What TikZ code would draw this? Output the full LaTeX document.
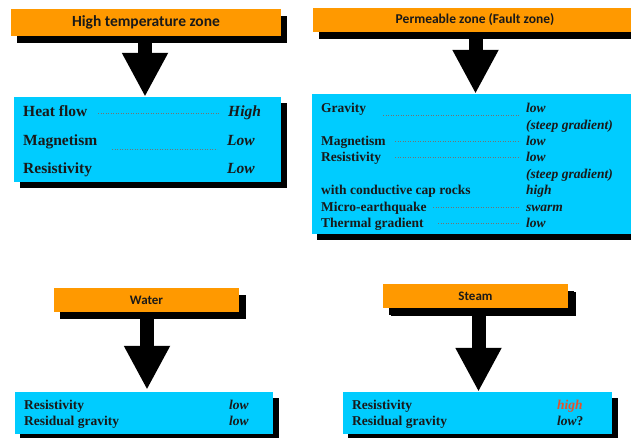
\documentclass[tikz,border=0pt]{standalone}
\usepackage{fontspec}
\setmainfont{Liberation Serif}
\newfontfamily\hdrfont{Carlito}
\usetikzlibrary{shadows,arrows.meta,calc}
\definecolor{zoneorange}{HTML}{FF9900}
\definecolor{zonecyan}{HTML}{00CCFF}
\definecolor{hotred}{RGB}{226,83,44}
\tikzset{
  hdrbox/.style={fill=zoneorange, draw=none, inner sep=0pt, text=black!90,
    drop shadow={shadow xshift=6pt, shadow yshift=-7pt, opacity=1, fill=black}},
  infobox/.style={fill=zonecyan, draw=none, inner sep=0pt,
    drop shadow={shadow xshift=6pt, shadow yshift=-6pt, opacity=1, fill=black}},
  bigarrow/.style={line width=14pt, -{Triangle[width=43pt,length=44pt]}},
  lbl/.style={anchor=base west, inner sep=0pt, text=black!90, font=\bfseries\fontsize{#1}{#1}\selectfont},
  val/.style={anchor=base west, inner sep=0pt, text=black!90, font=\bfseries\itshape\fontsize{#1}{#1}\selectfont},
  leader/.style={draw=black!55, dotted, line width=0.5pt}
}
\begin{document}
\begin{tikzpicture}[x=1pt,y=-1pt]
\useasboundingbox (0,0) rectangle (631,437);
\clip (0,0) rectangle (631,437);

% ---------- High temperature zone ----------
\node[hdrbox, minimum width=270pt, minimum height=27pt, font=\hdrfont\bfseries\fontsize{15.5}{18}\selectfont] (h1) at (146,22.5) {High temperature zone};
\node[infobox, minimum width=267pt, minimum height=85pt] (c1) at (147.5,139.5) {};
\coordinate (a1) at (145,36);
\draw[bigarrow] (a1) -- (a1 |- c1.north);
\node[lbl=15.5] (t11) at (23,116) {Heat flow};
\node[lbl=15.5] (t12) at (23,145) {Magnetism};
\node[lbl=15.5] (t13) at (23,173) {Resistivity};
\node[val=15.5] (v11) at (228,116) {High};
\node[val=15.5] (v12) at (227,145) {Low};
\node[val=15.5] (v13) at (227,173) {Low};
\draw[leader] (98,113) -- (220,113);
\draw[leader] (112,149) -- (217,149);

% ---------- Permeable zone ----------
\node[hdrbox, minimum width=324pt, minimum height=24pt, font=\hdrfont\bfseries\fontsize{13.5}{16}\selectfont] (h2) at (475,20) {Permeable zone (Fault zone)};
\node[infobox, minimum width=325pt, minimum height=140pt, drop shadow={shadow xshift=5pt, shadow yshift=-6pt, opacity=1, fill=black}] (c2) at (474.5,164) {};
\coordinate (a2) at (475.5,32);
\draw[bigarrow] (a2) -- (a2 |- c2.north);
\node[lbl=13.5] (t21) at (321,112) {Gravity};
\node[lbl=13.5] (t22) at (321,145) {Magnetism};
\node[lbl=13.5] (t23) at (321,161) {Resistivity};
\node[lbl=13.5] (t24) at (321,194) {with conductive cap rocks};
\node[lbl=13.5] (t25) at (321,211) {Micro-earthquake};
\node[lbl=13.5] (t26) at (321,227) {Thermal gradient};
\node[val=13.5] (v21) at (526,112) {low};
\node[val=13.5] (v22) at (526,129) {(steep gradient)};
\node[val=13.5] (v23) at (526,145) {low};
\node[val=13.5] (v24) at (526,161) {low};
\node[val=13.5] (v25) at (526,178) {(steep gradient)};
\node[val=13.5] (v26) at (526,194) {high};
\node[val=13.5] (v27) at (526,211) {swarm};
\node[val=13.5] (v28) at (526,227) {low};
\draw[leader] (383,115) -- (520,115);
\draw[leader] (395,141) -- (520,141);
\draw[leader] (395,157) -- (520,157);
\draw[leader] (433,207) -- (520,207);
\draw[leader] (438,223) -- (520,223);

% ---------- Water ----------
\node[hdrbox, minimum width=185pt, minimum height=24pt, font=\hdrfont\bfseries\fontsize{13}{16}\selectfont,
  drop shadow={shadow xshift=7pt, shadow yshift=-7pt, opacity=1, fill=black}] (h3) at (146.5,300) {Water};
\node[infobox, minimum width=258pt, minimum height=42pt, drop shadow={shadow xshift=5pt, shadow yshift=-6pt, opacity=1, fill=black}] (c3) at (144,413) {};
\coordinate (a3) at (147,312);
\draw[bigarrow] (a3) -- ($(a3 |- c3.north)+(0,-2)$);
\node[lbl=13.5] (t31) at (24,409) {Resistivity};
\node[lbl=13.5] (t32) at (24,425) {Residual gravity};
\node[val=13.5] (v31) at (229,409) {low};
\node[val=13.5] (v32) at (229,425) {low};

% ---------- Steam ----------
\node[hdrbox, minimum width=185pt, minimum height=24pt, font=\hdrfont\bfseries\fontsize{13}{16}\selectfont,
  drop shadow={shadow xshift=8pt, shadow yshift=-8pt, opacity=1, fill=black}] (h4) at (475.5,296) {Steam};
\node[infobox, minimum width=269pt, minimum height=42pt, drop shadow={shadow xshift=5pt, shadow yshift=-6pt, opacity=1, fill=black}] (c4) at (477.5,413) {};
\coordinate (a4) at (478.5,308);
\draw[bigarrow] (a4) -- (a4 |- c4.north);
\node[lbl=13.5] (t41) at (352,409) {Resistivity};
\node[lbl=13.5] (t42) at (352,425) {Residual gravity};
\node[val=13.5, text=hotred] (v41) at (557,409) {high};
\node[val=13.5] (v42) at (557,425) {low{\upshape ?}};
\end{tikzpicture}
\end{document}
